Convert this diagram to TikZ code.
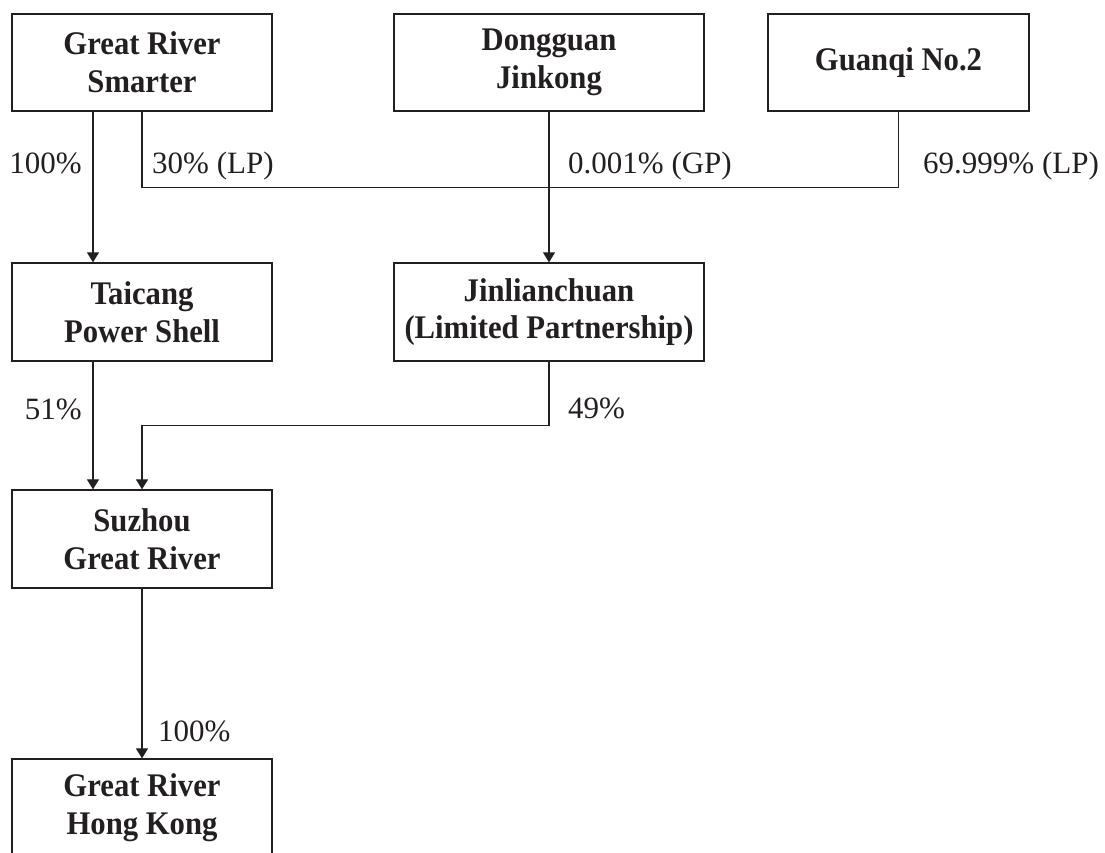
\documentclass[tikz,border=0pt]{standalone}
\usepackage{fontspec}
\setmainfont{Liberation Serif}
\newfontfamily\boxfont[FakeStretch=0.93]{Liberation Serif}
\usetikzlibrary{arrows.meta}
\definecolor{lc}{HTML}{231F20}
\begin{document}
\begin{tikzpicture}[x=1pt,y=-1pt,
  box/.style={draw=lc, line width=1.3pt, align=center, inner sep=0pt,
    font=\boxfont\fontsize{33}{37.7}\selectfont\bfseries, text=lc},
  conn/.style={draw=lc, line width=1.2pt},
  arr/.style={conn, -{Triangle[width=12pt,length=10pt]}},
  pct/.style={inner sep=0pt, font=\fontsize{31}{37}\selectfont, text=lc}]
\useasboundingbox (0,0) rectangle (1105,853);
\clip (0,0) rectangle (1105,853);

\node[box, minimum width=260pt, minimum height=97pt] (grs) at (142,62.5) {Great River\\Smarter};
\node[box, minimum width=310pt, minimum height=97pt] (dj) at (549,62.5) {Dongguan\\Jinkong};
\node[box, minimum width=261pt, minimum height=97pt] (gq) at (898.5,62.5) {Guanqi No.2};
\node[box, minimum width=260pt, minimum height=98pt] (tc) at (142,312) {Taicang\\Power Shell};
\node[box, minimum width=310pt, minimum height=98pt] (jl) at (549,312) {Jinlianchuan\\(Limited Partnership)};
\node[box, minimum width=260pt, minimum height=98pt] (sz) at (142,539) {Suzhou\\Great River};
\node[box, minimum width=260pt, minimum height=98pt] (hk) at (142,808) {Great River\\Hong Kong};

\draw[arr] ([xshift=-49pt]grs.south) -- ([xshift=-49pt]tc.north);
\draw[conn] (grs.south) -- ++(0,76) -| (gq.south);
\draw[arr] (dj.south) -- (jl.north);
\draw[arr] ([xshift=-49pt]tc.south) -- ([xshift=-49pt]sz.north);
\draw[arr] (jl.south) -- ++(0,64) -| (sz.north);
\draw[arr] (sz.south) -- (hk.north);

\node[pct, anchor=base east] (l1) at (82,174) {100\%};
\node[pct, anchor=base west] (l2) at (152,174) {30\% (LP)};
\node[pct, anchor=base west] (l3) at (568,174) {0.001\% (GP)};
\node[pct, anchor=base west] (l4) at (923,174) {69.999\% (LP)};
\node[pct, anchor=base east] (l5) at (82,419) {51\%};
\node[pct, anchor=base west] (l6) at (568,418) {49\%};
\node[pct, anchor=base west] (l7) at (158,741) {100\%};
\end{tikzpicture}
\end{document}
